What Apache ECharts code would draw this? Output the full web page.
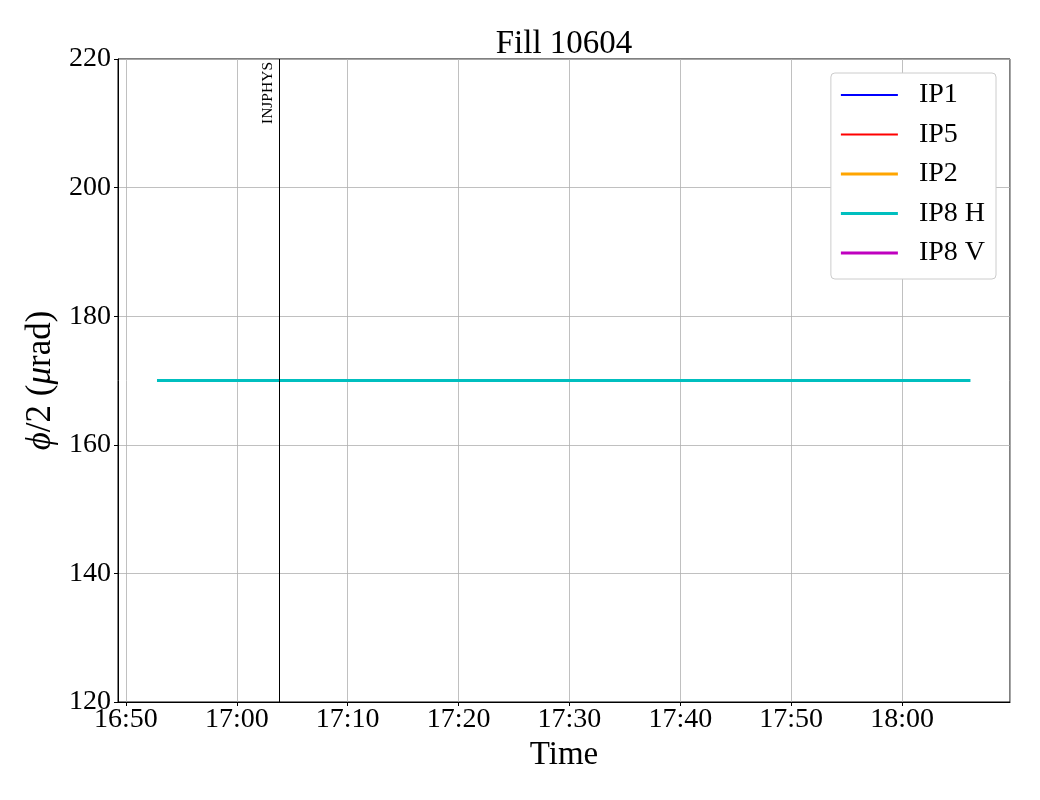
<!DOCTYPE html>
<html>
<head>
<meta charset="utf-8">
<script src="https://cdn.jsdelivr.net/npm/echarts@6/dist/echarts.min.js"></script>
<style>html,body{margin:0;padding:0;background:#fff}#c{width:1040px;height:800px}</style>
</head>
<body>
<div id="c"></div>
<script>
const titleText = 'Fill 10604';
const seriesNames = ['IP1', 'IP5', 'IP2', 'IP8 H', 'IP8 V'];
const seriesColors = ['#0000ff', '#ff0000', '#ffa500', '#00bfbf', '#bf00bf'];
const seriesWidths = [2, 2, 3, 3, 3];
const ip1Data = [];
const ip5Data = [];
const ip2Data = [];
const ip8hData = [['2025-05-01 16:52:48', 170], ['2025-05-01 18:06:10', 170]];
const ip8vData = [];
const markerTime = '2025-05-01 17:03:50';
const markerLabel = 'INJPHYS';
const xMin = '2025-05-01 16:49:17';
const xMax = '2025-05-01 18:09:44';
const yMin = 120, yMax = 220, yStep = 20;

const allData = [ip1Data, ip5Data, ip2Data, ip8hData, ip8vData];
const font = 'Liberation Serif';

function lineIcon(w) {
  const a = (3 - w) / 2, b = a + w;
  return 'path://M0,0 L0,0 M0,' + a + ' H57 V' + b + ' H0 Z M0,3 L0,3';
}

const series = seriesNames.map((n, i) => ({
  name: n,
  type: 'line',
  data: allData[i],
  showSymbol: false,
  symbol: 'none',
  lineStyle: { color: seriesColors[i], width: seriesWidths[i] },
  itemStyle: { color: seriesColors[i] },
  animation: false,
  z: 3
}));
series[3].markLine = {
  silent: true,
  symbol: ['none', 'none'],
  animation: false,
  lineStyle: { color: '#000', width: 1, type: 'solid' },
  label: {
    show: true,
    formatter: markerLabel,
    position: 'insideEndTop',
    distance: [3, 3],
    fontFamily: font,
    fontSize: 15.5,
    color: '#000'
  },
  data: [{ xAxis: markerTime }]
};

const chart = echarts.init(document.getElementById('c'), null, { renderer: 'canvas' });
chart.setOption({
  backgroundColor: '#fff',
  animation: false,
  title: {
    text: titleText, left: 559, top: 23, textAlign: 'center',
    textStyle: { fontFamily: font, fontSize: 33, fontWeight: 'normal', color: '#000' }
  },
  grid: {
    left: 118, right: 30, top: 59, bottom: 98,
    show: true, borderColor: '#000', borderWidth: 1, backgroundColor: 'transparent'
  },
  legend: {
    right: 44, top: 73,
    orient: 'vertical',
    backgroundColor: '#fff',
    borderColor: '#cccccc',
    borderWidth: 1,
    borderRadius: 4,
    padding: [8, 11, 12, 10],
    itemWidth: 57,
    itemHeight: 3,
    itemGap: 11.5,
    textStyle: { fontFamily: font, fontSize: 28, color: '#000', padding: [0, 0, 0, 16] },
    data: seriesNames.map((n, i) => ({
      name: n,
      icon: lineIcon(seriesWidths[i]),
      itemStyle: { color: seriesColors[i], borderWidth: 0 }
    }))
  },
  xAxis: {
    type: 'time',
    min: xMin, max: xMax,
    splitNumber: 8,
    name: 'Time', nameLocation: 'middle', nameGap: 34,
    nameTextStyle: { fontFamily: font, fontSize: 33, color: '#000' },
    axisLine: { show: true, lineStyle: { color: '#000', width: 1 } },
    axisTick: { show: true, inside: false, length: 4, lineStyle: { color: '#000' } },
    axisLabel: {
      formatter: '{HH}:{mm}', fontFamily: font, fontSize: 28, color: '#000', margin: 4,
      hideOverlap: false, showMinLabel: false, showMaxLabel: false,
      rich: {}
    },
    splitLine: { show: true, lineStyle: { color: '#b0b0b0', width: 0.8 } }
  },
  yAxis: {
    type: 'value',
    min: yMin, max: yMax, interval: yStep,
    name: '{i|ϕ}/2 ({i|μ}rad)', nameLocation: 'middle', nameGap: 55, nameRotate: 90,
    nameTextStyle: {
      fontFamily: font, fontSize: 35, color: '#000',
      rich: { i: { fontFamily: font, fontSize: 35, fontStyle: 'italic', color: '#000' } }
    },
    axisLine: { show: true, lineStyle: { color: '#000', width: 1 } },
    axisTick: { show: true, inside: false, length: 4, lineStyle: { color: '#000' } },
    axisLabel: { fontFamily: font, fontSize: 28, color: '#000', margin: 7 },
    splitLine: { show: true, lineStyle: { color: '#b0b0b0', width: 0.8 } }
  },
  series: series
});
</script>
</body>
</html>
